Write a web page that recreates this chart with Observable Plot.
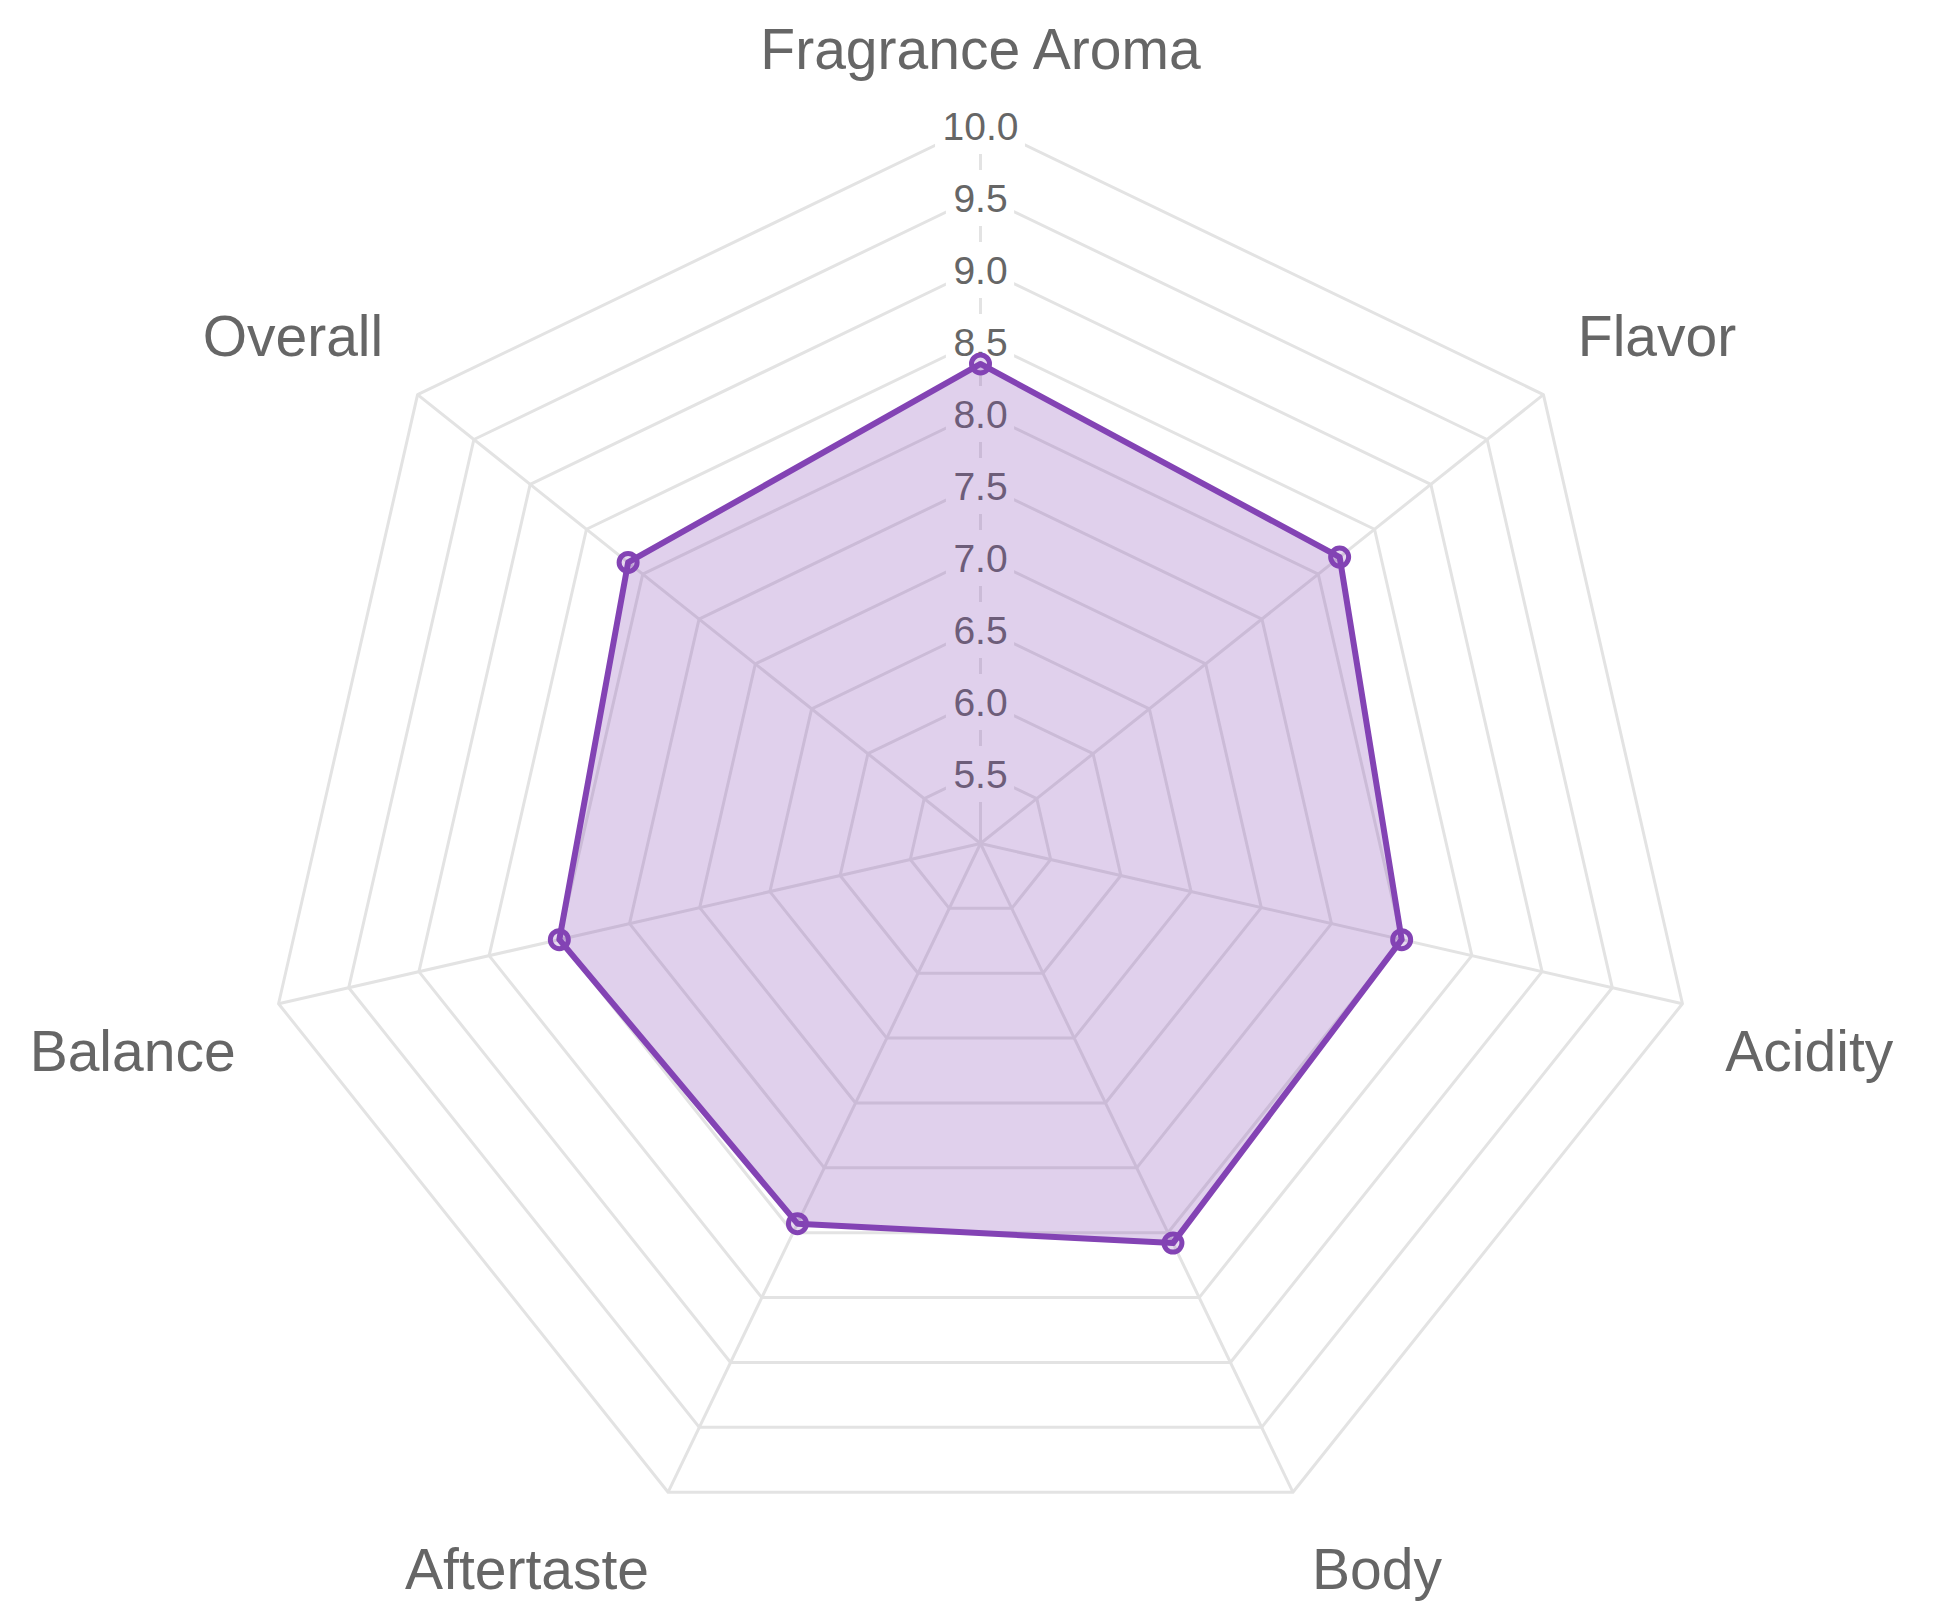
<!DOCTYPE html>
<html><head><meta charset="utf-8">
<script src="https://cdn.jsdelivr.net/npm/d3@7"></script>
<script src="https://cdn.jsdelivr.net/npm/@observablehq/plot@0.6"></script>
<style>body{margin:0;background:#fff}</style>
</head><body><div id="chart"></div>
<script>
const categories = ["Fragrance Aroma", "Flavor", "Acidity", "Body", "Aftertaste", "Balance", "Overall"];
const scores = [8.33, 8.19, 8.0, 8.08, 7.93, 8.0, 8.13];
const tickValues = [5.5, 6.0, 6.5, 7.0, 7.5, 8.0, 8.5, 9.0, 9.5, 10.0];
const tickLabels = ["5.5", "6.0", "6.5", "7.0", "7.5", "8.0", "8.5", "9.0", "9.5", "10.0"];
const rMin = 5, rMax = 10;

const W = 1950, H = 1605, CX = 980, CY = 843, R = 720;
const LABEL_R = 764 / R;
const labelFs = 57, tickFs = 39;
const purple = "#8343b4";
const n = categories.length;
const ang = i => i * 2 * Math.PI / n;
const norm = v => (v - rMin) / (rMax - rMin);
const px = (i, r) => Math.sin(ang(i)) * r;
const py = (i, r) => Math.cos(ang(i)) * r;

const ringData = tickValues.flatMap(t => categories.map((c, i) => ({ring: t, x: px(i, norm(t)), y: py(i, norm(t))})));
const spokes = categories.map((c, i) => ({i, x2: px(i, 1), y2: py(i, 1)}));
const seriesData = categories.map((c, i) => ({c, v: scores[i], x: px(i, norm(scores[i])), y: py(i, norm(scores[i]))}));

const labelData = categories.map((c, i) => {
  const a = ang(i) * 180 / Math.PI;
  const x = px(i, LABEL_R);
  let y = py(i, LABEL_R);
  const off = 0.6 * labelFs / R;
  if (a < 90 - 1e-6 || a > 270 + 1e-6) y += off; else if (a > 90 + 1e-6 && a < 270 - 1e-6) y -= off;
  let anchor = "middle";
  if (Math.abs(a) < 1e-6 || Math.abs(a - 180) < 1e-6) anchor = "middle";
  else if (a < 180) anchor = "start"; else anchor = "end";
  return {c, x, y, anchor};
});

const tickRows = tickValues.map((t, k) => ({t, label: tickLabels[k], w: (tickLabels[k].length - 1) * 0.556 * tickFs + 0.278 * tickFs + 14}));
const backH = 56;

const labelMark = anchor => Plot.text(labelData.filter(d => d.anchor === anchor), {
  x: "x", y: "y", text: "c", textAnchor: anchor, lineAnchor: "middle", dy: 5,
  fontSize: labelFs, fill: "#666666"
});

const chart = Plot.plot({
  width: W, height: H, margin: 0,
  x: {domain: [-CX / R, (W - CX) / R], axis: null},
  y: {domain: [(CY - H) / R, CY / R], axis: null},
  style: {fontFamily: "'Liberation Sans', Arial, Helvetica, sans-serif", background: "white"},
  marks: [
    Plot.line(ringData, {x: "x", y: "y", z: "ring", curve: "linear-closed", stroke: "#e3e3e3", strokeWidth: 3}),
    Plot.link(spokes, {x1: () => 0, y1: () => 0, x2: "x2", y2: "y2", stroke: "#e3e3e3", strokeWidth: 3}),
    Plot.rect(tickRows, {x1: d => -d.w / 2 / R, x2: d => d.w / 2 / R, y1: d => norm(d.t) - backH / 2 / R, y2: d => norm(d.t) + backH / 2 / R, fill: "white", dy: 3}),
    Plot.text(tickRows, {x: () => 0, y: d => norm(d.t), text: "label", fontSize: tickFs, fill: "#666666", lineAnchor: "middle", dy: 4}),
    Plot.line(seriesData, {x: "x", y: "y", curve: "linear-closed", fill: purple, fillOpacity: 0.25, stroke: purple, strokeWidth: 6, strokeLinejoin: "round"}),
    Plot.dot(seriesData, {x: "x", y: "y", r: 9, stroke: purple, strokeWidth: 5, fill: purple, fillOpacity: 0.2}),
    labelMark("middle"), labelMark("start"), labelMark("end")
  ]
});
document.getElementById("chart").appendChild(chart);
</script>
</body></html>
